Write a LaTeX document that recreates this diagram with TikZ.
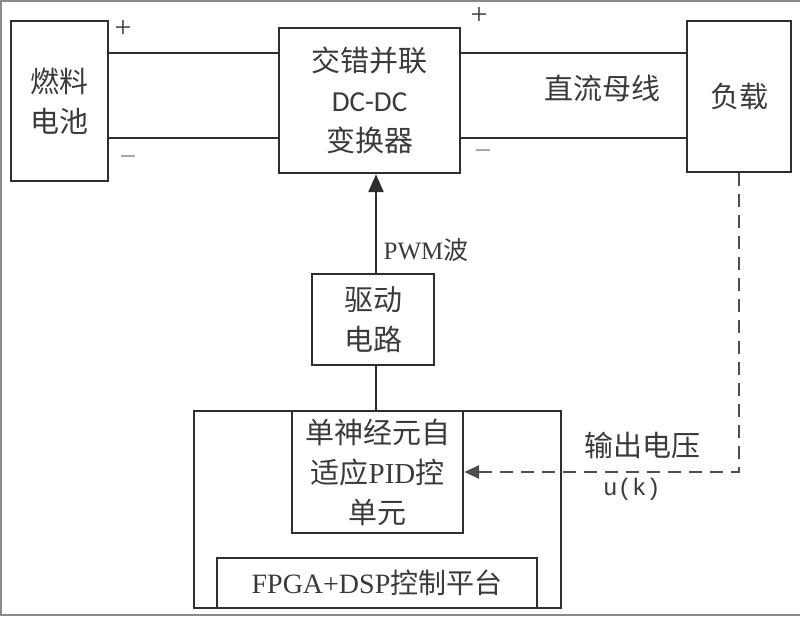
\documentclass[tikz,border=0pt]{standalone}
\usepackage{fontspec}
\setmainfont{Liberation Serif}
\newfontfamily\cjk{Noto Sans CJK SC}
\newfontfamily\calfont{Carlito}
\newfontfamily\monofont{Liberation Mono}
\usetikzlibrary{arrows.meta}
\definecolor{linec}{HTML}{2E2E2E}
\definecolor{textc}{HTML}{3A3A3A}
\definecolor{framec}{HTML}{8A8A8A}
\tikzset{
  blk/.style={draw=linec, line width=2.4pt, inner sep=0pt, align=center, text=textc,
    font=\cjk\fontsize{29}{40}\selectfont},
  wire/.style={draw=linec, line width=2.4pt},
  fb/.style={draw=linec!85, line width=2.8pt, dash pattern=on 13pt off 8pt},
  lbl/.style={text=textc, inner sep=0pt},
  sign/.style={text=textc, inner sep=0pt, font=\fontsize{30}{30}\selectfont}
}
\begin{document}
\begin{tikzpicture}[x=1pt,y=-1pt]
\useasboundingbox (0,0) rectangle (800,617);
% outer frame
\draw[framec, line width=2pt] (800,1) -- (1,1) -- (1,615) -- (800,615);
% rows
\coordinate (rtop) at (0,53);
\coordinate (rbot) at (0,138);
\coordinate (ax) at (376,0);
% blocks
\node[blk, minimum width=97pt, minimum height=160pt] (fc) at (59.5,101) {燃料\\电池};
\node[blk, minimum width=181pt, minimum height=145pt] (dc) at (369.5,100.5)
  {交错并联\\{\calfont DC-DC}\\变换器};
\node[blk, minimum width=104pt, minimum height=151pt] (ld) at (739,96.5) {负载};
\node[blk, minimum width=122pt, minimum height=91pt] (drv) at (373,319.5) {驱动\\电路};
\node[blk, minimum width=367pt, minimum height=197pt] (plat) at (377.5,509.5) {};
\node[blk, minimum width=171pt, minimum height=122pt] (pid) at (377.5,472)
  {单神经元自\\适应{\rmfamily PID}控\\单元};
\node[blk, minimum width=320pt, minimum height=50pt] (fpga) at (377,583)
  {{\rmfamily\fontsize{28}{30}\selectfont FPGA+DSP}{\fontsize{28}{30}\selectfont 控制平台}};
% bus lines
\draw[wire] (fc.east |- rtop) -- (dc.west |- rtop);
\draw[wire] (fc.east |- rbot) -- (dc.west |- rbot);
\draw[wire] (dc.east |- rtop) -- (ld.west |- rtop);
\draw[wire] (dc.east |- rbot) -- (ld.west |- rbot);
% signs
\node[sign] (p1) at (123,29) {+};
\node[sign, text=framec] (m1) at (128,161) {−};
\node[sign] (p2) at (479,16) {+};
\node[sign, text=framec] (m2) at (483,155) {−};
% bus label
\node[lbl, font=\cjk\fontsize{29}{30}\selectfont] (bus) at (602,88) {直流母线};
% PWM arrow
\draw[wire, -{Triangle[length=18pt,width=15pt]}] (drv.north -| ax) -- (dc.south -| ax);
\node[lbl, font=\fontsize{25}{26}\selectfont] (pwm) at (426,250) {PWM{\cjk 波}};
% driver to PID
\draw[wire] (drv.south -| ax) -- (pid.north -| ax);
% feedback
\draw[fb, -{Triangle[length=15pt,width=13pt]}] (ld.south) |- (pid.east);
\node[lbl, font=\cjk\fontsize{29}{30}\selectfont] (out) at (642,445) {输出电压};
\node[lbl, font=\monofont\fontsize{24}{26}\selectfont] (uk) at (632,489) {u(k)};
\end{tikzpicture}
\end{document}
